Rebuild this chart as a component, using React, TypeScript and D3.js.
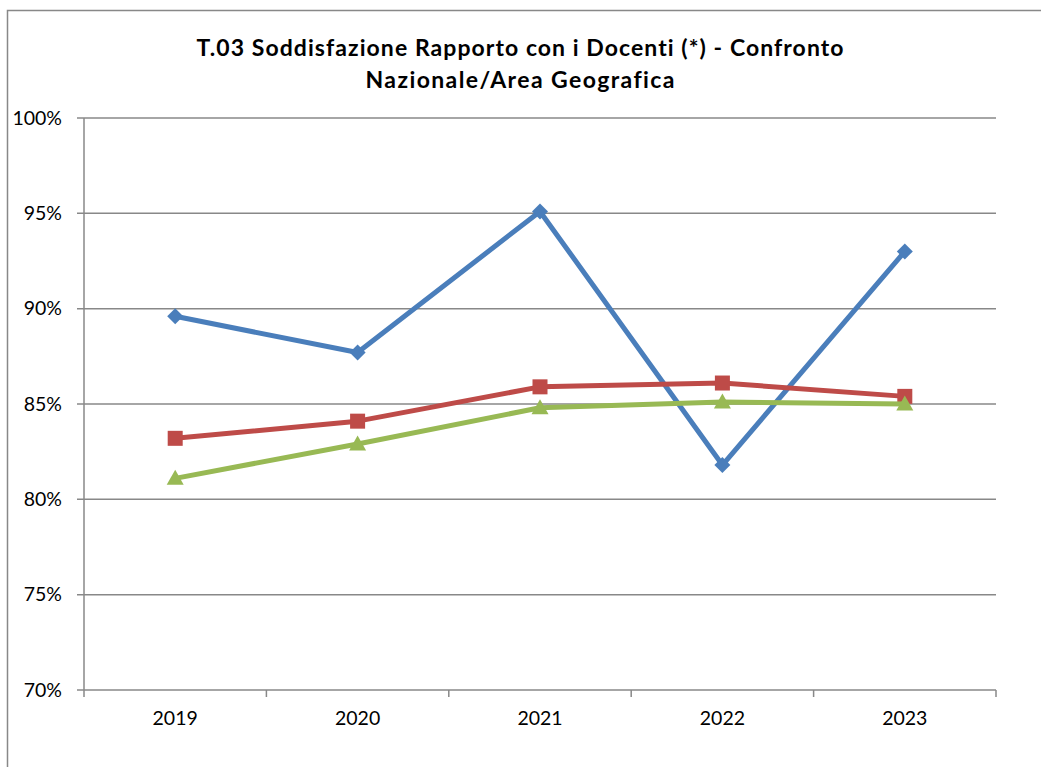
import React from "react";
import * as d3 from "d3";

const years = ["2019", "2020", "2021", "2022", "2023"];
const seriesBlue = [89.6, 87.7, 95.1, 81.8, 93.0];
const seriesRed = [83.2, 84.1, 85.9, 86.1, 85.4];
const seriesGreen = [81.1, 82.9, 84.8, 85.1, 85.0];
const yTicks = [70, 75, 80, 85, 90, 95, 100];
const titleLines = ["T.03 Soddisfazione Rapporto con i Docenti (*) - Confronto", "Nazionale/Area Geografica"];
const titleWidths = [647, 309];

const W = 1041;
const H = 767;
const left = 84;
const right = 996;
const top = 118;
const bottom = 690;
const font = "Lato, 'Liberation Sans', sans-serif";
const gridColor = "#888888";

export default function App() {
  const x = d3.scaleBand<string>().domain(years).range([left, right]).padding(0);
  const y = d3.scaleLinear().domain([70, 100]).range([bottom, top]);
  const cx = (d: string) => (x(d) as number) + x.bandwidth() / 2;
  const line = d3
    .line<number>()
    .x((_, i) => cx(years[i]))
    .y((v) => y(v));

  const series = [
    { name: "blue", values: seriesBlue, color: "#4A7EBB", marker: "diamond" },
    { name: "red", values: seriesRed, color: "#BE4B48", marker: "square" },
    { name: "green", values: seriesGreen, color: "#98B954", marker: "triangle" },
  ];

  const marker = (type: string, px: number, py: number, color: string, key: string) => {
    if (type === "diamond") {
      const r = 8;
      return <path key={key} d={`M${px},${py - r}L${px + r},${py}L${px},${py + r}L${px - r},${py}Z`} fill={color} />;
    }
    if (type === "square") {
      const s = 15;
      return <rect key={key} x={px - s / 2} y={py - s / 2} width={s} height={s} fill={color} />;
    }
    const r = 8.5;
    return <path key={key} d={`M${px},${py - r}L${px + r},${py + r * 0.75}L${px - r},${py + r * 0.75}Z`} fill={color} />;
  };

  const boundaries = years.map((d) => x(d) as number).concat([right]);

  return (
    <svg width={W} height={H} style={{ position: "absolute", left: 0, top: 0, fontVariantLigatures: "none" }}>
      <rect x={0} y={0} width={W} height={H} fill="#ffffff" />
      <path d={`M7.5,${H}V10.5H${W}`} fill="none" stroke={gridColor} strokeWidth={1.5} />
      {titleLines.map((t, i) => (
        <text
          key={i}
          x={520}
          y={56 + i * 32}
          textAnchor="middle"
          fontFamily={font}
          fontWeight="bold"
          fontSize={23}
          textLength={titleWidths[i]}
          lengthAdjust="spacing"
          fill="#000"
        >
          {t}
        </text>
      ))}
      {yTicks.map((t) => (
        <g key={t}>
          <line x1={77} x2={right} y1={y(t)} y2={y(t)} stroke={gridColor} strokeWidth={1.5} />
          <text x={62} y={y(t)} dy="0.35em" textAnchor="end" fontFamily={font} fontSize={19.5} fill="#000">
            {t}%
          </text>
        </g>
      ))}
      <line x1={left} x2={left} y1={top} y2={bottom} stroke={gridColor} strokeWidth={1.5} />
      {boundaries.map((b, i) => (
        <line key={i} x1={b} x2={b} y1={bottom} y2={697} stroke={gridColor} strokeWidth={1.5} />
      ))}
      {years.map((d) => (
        <text key={d} x={cx(d)} y={718} dy="0.35em" textAnchor="middle" fontFamily={font} fontSize={19.5} fill="#000">
          {d}
        </text>
      ))}
      {series.map((s) => (
        <g key={s.name}>
          <path d={line(s.values) || ""} fill="none" stroke={s.color} strokeWidth={5} strokeLinejoin="round" />
          {s.values.map((v, i) => marker(s.marker, cx(years[i]), y(v), s.color, s.name + i))}
        </g>
      ))}
    </svg>
  );
}
